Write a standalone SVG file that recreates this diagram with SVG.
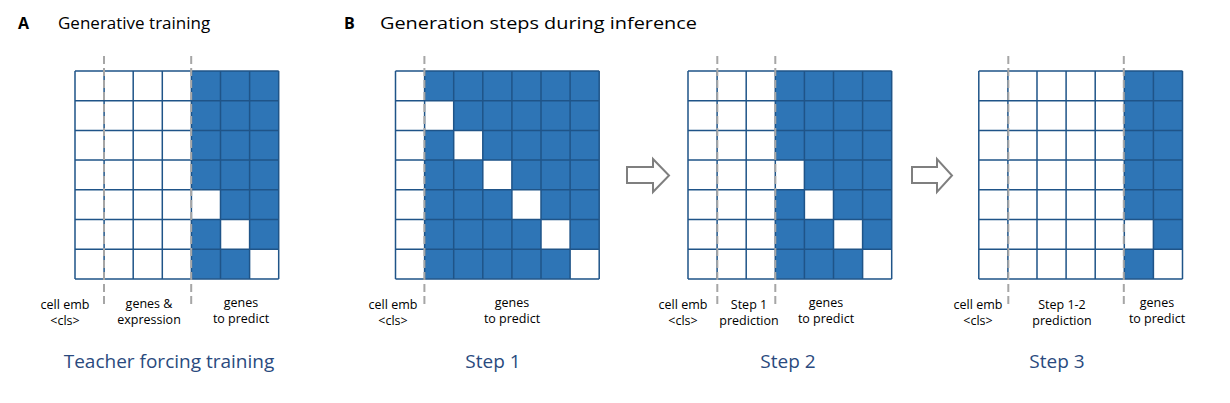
<svg xmlns="http://www.w3.org/2000/svg" width="1230" height="403" viewBox="0 0 1230 403">
<style>
.bg{fill:#ffffff}
.blue{fill:#2E75B6}
.white{fill:#ffffff}
.grid{fill:none;stroke:#1F5488;stroke-width:1.5}
.dash{stroke:#A6A6A6;stroke-width:2;stroke-dasharray:8 4;fill:none}
.arrow{fill:#ffffff;stroke:#7F7F7F;stroke-width:2}
.head{font-family:"Open Sans","Liberation Sans",sans-serif;font-size:17px;fill:#000}
.letter{font-family:"Open Sans","Liberation Sans",sans-serif;font-size:16px;font-weight:bold;fill:#000}
.lab{font-family:"Open Sans","Liberation Sans",sans-serif;font-size:12.5px;fill:#000;text-anchor:middle}
.cap{font-family:"Open Sans","Liberation Sans",sans-serif;font-size:19px;fill:#2A4A7E;text-anchor:middle}
</style>
<defs>
<path id="gl" class="grid" d="M0,0V207.9M29.1,0V207.9M58.2,0V207.9M87.3,0V207.9M116.4,0V207.9M145.5,0V207.9M174.6,0V207.9M203.7,0V207.9M0,0H203.7M0,29.7H203.7M0,59.4H203.7M0,89.1H203.7M0,118.8H203.7M0,148.5H203.7M0,178.2H203.7M0,207.9H203.7"/>
</defs>
<rect width="1230" height="403" fill="#ffffff"/>

<g id="titles">
<text class="letter" x="18" y="29">A</text>
<text class="head" x="58" y="29">Generative training</text>
<text class="letter" x="344" y="29">B</text>
<text class="head" x="380" y="29" textLength="317" lengthAdjust="spacingAndGlyphs">Generation steps during inference</text>
</g>

<g id="gridA" transform="translate(75,71)">
<rect class="white" width="203.7" height="207.9"/>
<rect class="blue" x="116.4" y="0" width="87.3" height="207.9"/>
<rect class="white" x="116.4" y="118.8" width="29.1" height="29.7"/>
<rect class="white" x="145.5" y="148.5" width="29.1" height="29.7"/>
<rect class="white" x="174.6" y="178.2" width="29.1" height="29.7"/>
<use href="#gl"/>
</g>

<g id="gridStep1" transform="translate(395.5,71)">
<rect class="white" width="203.7" height="207.9"/>
<rect class="blue" x="29.1" y="0" width="174.6" height="207.9"/>
<rect class="white" x="29.1" y="29.7" width="29.1" height="29.7"/>
<rect class="white" x="58.2" y="59.4" width="29.1" height="29.7"/>
<rect class="white" x="87.3" y="89.1" width="29.1" height="29.7"/>
<rect class="white" x="116.4" y="118.8" width="29.1" height="29.7"/>
<rect class="white" x="145.5" y="148.5" width="29.1" height="29.7"/>
<rect class="white" x="174.6" y="178.2" width="29.1" height="29.7"/>
<use href="#gl"/>
</g>

<g id="gridStep2" transform="translate(688,71)">
<rect class="white" width="203.7" height="207.9"/>
<rect class="blue" x="87.3" y="0" width="116.4" height="207.9"/>
<rect class="white" x="87.3" y="89.1" width="29.1" height="29.7"/>
<rect class="white" x="116.4" y="118.8" width="29.1" height="29.7"/>
<rect class="white" x="145.5" y="148.5" width="29.1" height="29.7"/>
<rect class="white" x="174.6" y="178.2" width="29.1" height="29.7"/>
<use href="#gl"/>
</g>

<g id="gridStep3" transform="translate(978.8,71)">
<rect class="white" width="203.7" height="207.9"/>
<rect class="blue" x="145.5" y="0" width="58.2" height="207.9"/>
<rect class="white" x="145.5" y="148.5" width="29.1" height="29.7"/>
<rect class="white" x="174.6" y="178.2" width="29.1" height="29.7"/>
<use href="#gl"/>
</g>

<g id="dividers">
<line class="dash" x1="104" y1="56" x2="104" y2="304"/>
<line class="dash" x1="191.2" y1="56" x2="191.2" y2="304"/>
<line class="dash" x1="424.4" y1="56" x2="424.4" y2="304"/>
<line class="dash" x1="717.3" y1="56" x2="717.3" y2="304"/>
<line class="dash" x1="775.3" y1="56" x2="775.3" y2="304"/>
<line class="dash" x1="1008.3" y1="56" x2="1008.3" y2="304"/>
<line class="dash" x1="1123.8" y1="56" x2="1123.8" y2="304"/>
</g>

<g id="connectors">
<polygon class="arrow" points="627,167 653,167 653,159 669,175.5 653,192 653,183 627,183"/>
<polygon class="arrow" points="912,167 937,167 937,159 952,175.5 937,192 937,183 912,183"/>
</g>

<g id="labels">
<text class="lab" x="65" y="309">cell emb</text>
<text class="lab" x="65" y="325">&lt;cls&gt;</text>
<text class="lab" x="149" y="308">genes &amp;</text>
<text class="lab" x="149" y="324">expression</text>
<text class="lab" x="241" y="307">genes</text>
<text class="lab" x="241" y="323">to predict</text>

<text class="lab" x="393" y="309">cell emb</text>
<text class="lab" x="393" y="325">&lt;cls&gt;</text>
<text class="lab" x="512" y="307">genes</text>
<text class="lab" x="512" y="323">to predict</text>

<text class="lab" x="683" y="309">cell emb</text>
<text class="lab" x="683" y="325">&lt;cls&gt;</text>
<text class="lab" x="749" y="309">Step 1</text>
<text class="lab" x="749" y="325">prediction</text>
<text class="lab" x="826" y="307">genes</text>
<text class="lab" x="826" y="323">to predict</text>

<text class="lab" x="978" y="309">cell emb</text>
<text class="lab" x="978" y="325">&lt;cls&gt;</text>
<text class="lab" x="1062" y="309">Step 1-2</text>
<text class="lab" x="1062" y="325">prediction</text>
<text class="lab" x="1157" y="307">genes</text>
<text class="lab" x="1157" y="323">to predict</text>
</g>

<g id="captions">
<text class="cap" x="169" y="368">Teacher forcing training</text>
<text class="cap" x="493" y="368">Step 1</text>
<text class="cap" x="788" y="368">Step 2</text>
<text class="cap" x="1057" y="368">Step 3</text>
</g>
</svg>
